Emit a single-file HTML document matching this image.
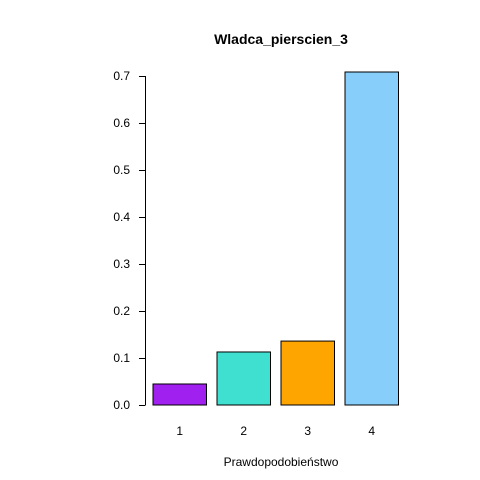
<!DOCTYPE html>
<html><head><meta charset="utf-8"><style>
html,body{margin:0;padding:0;background:#fff;}
svg{display:block;font-family:"Liberation Sans",Arial,sans-serif;}
</style></head><body>
<svg id="chart" width="480" height="480">
<text x="281" y="44" text-anchor="middle" font-weight="bold" font-size="14">Wladca_pierscien_3</text>
<text x="281" y="466" text-anchor="middle" font-size="12">Prawdopodobieństwo</text>
<g id="bars"></g>
<g id="yaxis"></g>
</svg>
<script>
const categories = ["1","2","3","4"];
const values = [0.0447, 0.1128, 0.136, 0.7085];
const colors = ["#a020f0","#40e0d0","#ffa500","#87cefa"];
const yTicks = [0,0.1,0.2,0.3,0.4,0.5,0.6,0.7];
const yTickLabels = ["0.0","0.1","0.2","0.3","0.4","0.5","0.6","0.7"];
const NS="http://www.w3.org/2000/svg";
function y(v){return 405 - v*470;}
function xb(i){return 153 + i*64;}
const bw=53.5;
const bars=document.getElementById('bars');
values.forEach((v,i)=>{
  const r=document.createElementNS(NS,'rect');
  r.setAttribute('x',xb(i));r.setAttribute('y',y(v));
  r.setAttribute('width',bw);r.setAttribute('height',y(0)-y(v));
  r.setAttribute('fill',colors[i]);r.setAttribute('stroke','#000');r.setAttribute('stroke-width','1');
  
  
  bars.appendChild(r);
  const t=document.createElementNS(NS,'text');
  t.setAttribute('x',xb(i)+bw/2);t.setAttribute('y',435);
  t.setAttribute('text-anchor','middle');t.setAttribute('font-size','12');
  t.textContent=categories[i];
  
  
  bars.appendChild(t);
});
const ya=document.getElementById('yaxis');
const ax=document.createElementNS(NS,'line');
ax.setAttribute('x1',145.5);ax.setAttribute('x2',145.5);
ax.setAttribute('y1',y(yTicks[0]));ax.setAttribute('y2',y(yTicks[yTicks.length-1]));
ax.setAttribute('stroke','#000');


ya.appendChild(ax);
yTicks.forEach((v,i)=>{
  const l=document.createElementNS(NS,'line');
  l.setAttribute('x1',139);l.setAttribute('x2',145.5);
  l.setAttribute('y1',Math.round(y(v))+0.5);l.setAttribute('y2',Math.round(y(v))+0.5);
  l.setAttribute('stroke','#000');
  
  
  ya.appendChild(l);
  const t=document.createElementNS(NS,'text');
  t.setAttribute('x',130);t.setAttribute('y',y(v)+4);
  t.setAttribute('text-anchor','end');t.setAttribute('font-size','12');
  t.textContent=yTickLabels[i];
  
  
  ya.appendChild(t);
});
</script>
</body></html>
